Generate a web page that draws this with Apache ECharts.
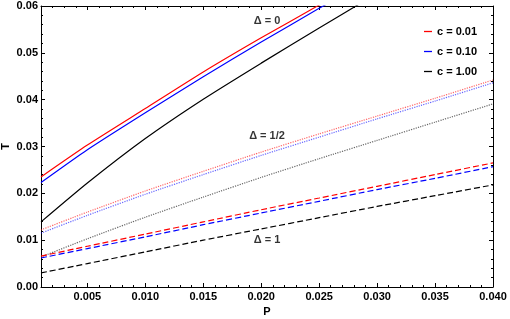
<!DOCTYPE html>
<html>
<head>
<meta charset="utf-8">
<script src="https://cdn.jsdelivr.net/npm/echarts@6/dist/echarts.min.js"></script>
<style>html,body{margin:0;padding:0;background:#fff}#c{width:510px;height:319px}</style>
</head>
<body>
<div id="c"></div>
<script>
// ---- data ----
const P_vals = [0.001, 0.005, 0.010, 0.015, 0.020, 0.025, 0.030, 0.035, 0.040];

// Delta = 0 (solid)
const T_d0_c001 = [0.0235, 0.0303, 0.0381, 0.0459, 0.0532, 0.0602, 0.0672];
const T_d0_c010 = [0.0223, 0.0293, 0.0372, 0.0449, 0.0523, 0.0595, 0.0665];
const T_d0_c100 = [0.0139, 0.0222, 0.0317, 0.0401, 0.0478, 0.0553, 0.0627];

// Delta = 1/2 (dotted)
const T_dh_c001 = [0.0122, 0.0160, 0.0205, 0.0247, 0.0288, 0.0327, 0.0365, 0.0403, 0.0442];
const T_dh_c010 = [0.0115, 0.0153, 0.0198, 0.0240, 0.0281, 0.0320, 0.0359, 0.0397, 0.0436];
const T_dh_c100 = [0.0064, 0.0103, 0.0149, 0.0192, 0.0234, 0.0274, 0.0313, 0.0352, 0.0391];

// Delta = 1 (dashed)
const T_d1_c001 = [0.0066, 0.0087, 0.0113, 0.0139, 0.0165, 0.0190, 0.0215, 0.0240, 0.0265];
const T_d1_c010 = [0.0062, 0.0082, 0.0107, 0.0133, 0.0158, 0.0183, 0.0208, 0.0232, 0.0257];
const T_d1_c100 = [0.0030, 0.0050, 0.0075, 0.0100, 0.0124, 0.0148, 0.0172, 0.0195, 0.0218];

const legendNames = ['c = 0.01', 'c = 0.10', 'c = 1.00'];

const xMajorTicks = [0.005, 0.010, 0.015, 0.020, 0.025, 0.030, 0.035, 0.040];
const xMinorTicks = [0.002,0.003,0.004,0.006,0.007,0.008,0.009,0.011,0.012,0.013,0.014,0.016,0.017,0.018,0.019,
  0.021,0.022,0.023,0.024,0.026,0.027,0.028,0.029,0.031,0.032,0.033,0.034,0.036,0.037,0.038,0.039];

const annotTexts = ['Δ = 0', 'Δ = 1/2', 'Δ = 1'];
const annotP = [0.0205, 0.0205, 0.0205];
const annotT = [0.0568, 0.0322, 0.0100];

// ---- build ----
function pairs(arr) { return arr.map((t, i) => [P_vals[i], t]); }
const RED = '#ff0000', BLUE = '#0000ff', BLACK = '#000000';
const FONT = 'Liberation Sans';
const lblStyle = { color: '#000', fontFamily: FONT, fontWeight: 'bold', fontSize: 11 };

function line(name, arr, color, type, opacity) {
  return {
    name: name, type: 'line', data: pairs(arr), showSymbol: false, symbol: 'none',
    smooth: 0.2, silent: true, animation: false, clip: true,
    xAxisIndex: 0, yAxisIndex: 0,
    lineStyle: { color: color, width: 1.2, type: type, opacity: opacity == null ? 1 : opacity },
    itemStyle: { color: color }
  };
}

const frame = { show: true, lineStyle: { color: '#000', width: 1 } };
function xAx(pos, ticks, len, showLine, labels) {
  return {
    type: 'value', min: 0.001, max: 0.04, position: pos, gridIndex: 0,
    axisLine: showLine ? frame : { show: false },
    axisTick: { show: true, inside: true, length: len, customValues: ticks, lineStyle: { color: '#000', width: 1 } },
    axisLabel: labels ? Object.assign({ show: true, customValues: ticks, margin: 4, showMaxLabel: true, showMinLabel: true,
      formatter: v => v.toFixed(3) }, lblStyle) : { show: false },
    splitLine: { show: false },
    name: labels ? 'P' : '', nameLocation: 'middle', nameGap: 19, nameMoveOverlap: false,
    nameTextStyle: lblStyle
  };
}
function yAx(pos, labels) {
  return {
    type: 'value', min: 0, max: 0.06, interval: 0.01, position: pos, gridIndex: 0,
    axisLine: frame,
    axisTick: { show: true, inside: true, length: 4, lineStyle: { color: '#000', width: 1 } },
    minorTick: { show: true, splitNumber: 5, length: 2, lineStyle: { color: '#000', width: 1 } },
    axisLabel: labels ? Object.assign({ show: true, margin: 3, formatter: v => v.toFixed(2) }, lblStyle) : { show: false },
    splitLine: { show: false }, minorSplitLine: { show: false },
    name: labels ? 'T' : '', nameLocation: 'middle', nameGap: 30, nameRotate: 90, nameMoveOverlap: false,
    nameTextStyle: lblStyle
  };
}

const chart = echarts.init(document.getElementById('c'), null, { renderer: 'canvas' });
chart.setOption({
  animation: false,
  backgroundColor: '#fff',
  grid: { left: 41, right: 17, top: 6, bottom: 32, containLabel: false, outerBoundsMode: 'none' },
  xAxis: [
    xAx('bottom', xMajorTicks, 4, true, true),
    xAx('bottom', xMinorTicks, 2, false, false),
    xAx('top', xMajorTicks, 4, true, false),
    xAx('top', xMinorTicks, 2, false, false)
  ],
  yAxis: [ yAx('left', true), yAx('right', false) ],
  legend: {
    data: legendNames, orient: 'vertical', left: 419, top: 20, itemGap: 7,
    icon: 'rect', itemWidth: 8, itemHeight: 1.3, selectedMode: false,
    textStyle: Object.assign({ padding: [0, 0, 0, 0], lineHeight: 13 }, lblStyle)
  },
  series: [
    line(legendNames[0], T_d0_c001, RED, 'solid'),
    line(legendNames[1], T_d0_c010, BLUE, 'solid'),
    line(legendNames[2], T_d0_c100, BLACK, 'solid'),
    line('d12_001', T_dh_c001, RED, [1.2, 1.2], 0.6),
    line('d12_010', T_dh_c010, BLUE, [1.2, 1.2], 0.6),
    line('d12_100', T_dh_c100, BLACK, [1.2, 1.2], 0.6),
    line('d1_001', T_d1_c001, RED, [6, 3]),
    line('d1_010', T_d1_c010, BLUE, [6, 3]),
    line('d1_100', T_d1_c100, BLACK, [6, 3]),
    {
      name: 'annot', type: 'scatter', symbolSize: 0, silent: true,
      xAxisIndex: 0, yAxisIndex: 0,
      data: annotTexts.map((s, i) => ({ value: [annotP[i], annotT[i]], name: s })),
      label: Object.assign({ show: true, position: 'inside', formatter: p => p.name }, lblStyle)
    }
  ]
});
</script>
</body>
</html>
